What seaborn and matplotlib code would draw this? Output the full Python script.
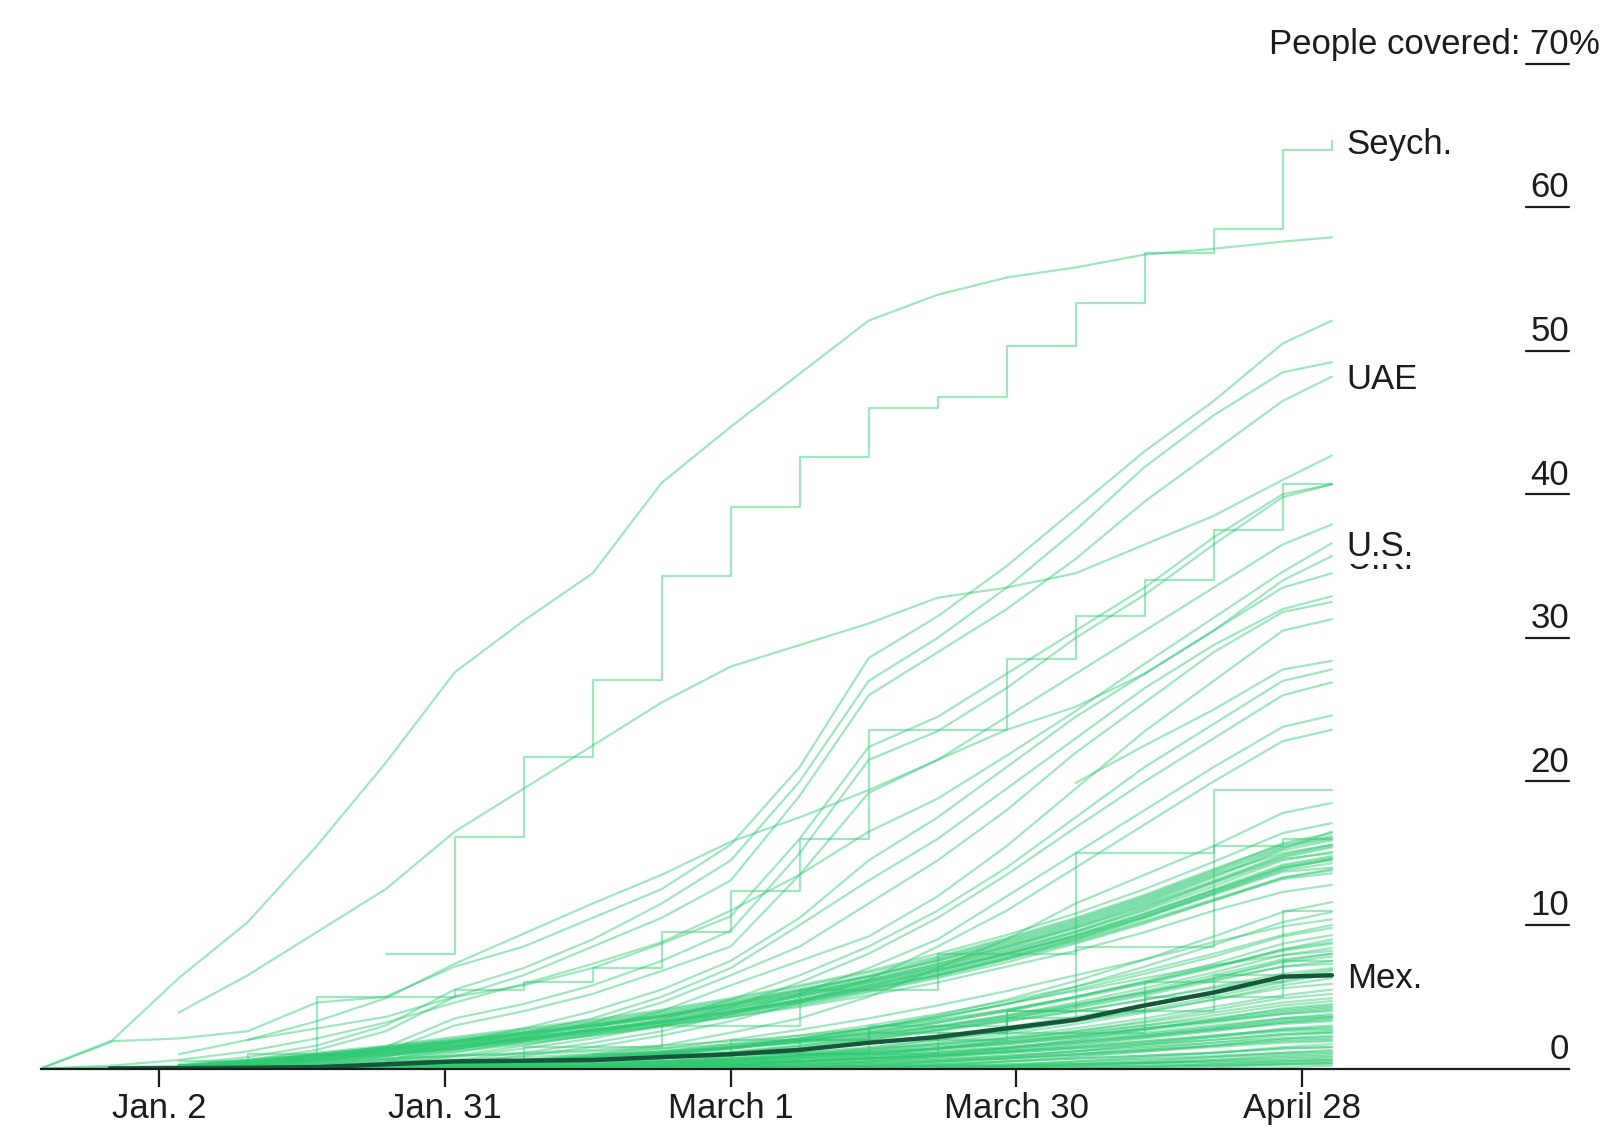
import pandas as pd
import numpy as np
import matplotlib.pyplot as plt
import matplotlib.dates as mdates
import seaborn as sns

nan = np.nan

# weekly readings of share of people covered (%), Dec 21 2020 .. May 1 2021
week_dates = ['2020-12-21', '2020-12-28', '2021-01-04', '2021-01-11', '2021-01-18',
              '2021-01-25', '2021-02-01', '2021-02-08', '2021-02-15', '2021-02-22',
              '2021-03-01', '2021-03-08', '2021-03-15', '2021-03-22', '2021-03-29',
              '2021-04-05', '2021-04-12', '2021-04-19', '2021-04-26', '2021-05-01']

israel = [0, 1.8, 6.3, 10.2, 15.5, 21.3, 27.6, 31.2, 34.5, 40.8, 44.7, 48.4, 52.1, 53.9, 55.1, 55.8, 56.7, 57.1, 57.6, 57.9]
seychelles = [nan, nan, nan, nan, nan, 8.0, 16.1, 21.7, 27.1, 34.3, 39.1, 42.6, 46.0, 46.8, 50.3, 53.3, 56.8, 58.5, 64.0, 64.6]
uae = [nan, nan, 0.2, 0.6, 1.3, 2.6, 5.0, 6.5, 8.5, 10.5, 13.1, 19.0, 26.0, 29.0, 32.0, 35.5, 39.5, 43.0, 46.5, 48.2]
us = [0, 0.2, 0.6, 1.2, 2.1, 3.2, 4.6, 5.9, 7.3, 8.8, 11.0, 13.5, 16.5, 18.8, 21.8, 24.9, 28.2, 31.4, 34.6, 36.6]
uk = [nan, nan, nan, 2.0, 3.3, 4.9, 7.3, 9.4, 11.5, 13.5, 15.8, 17.5, 19.4, 21.5, 23.6, 25.2, 27.5, 30.5, 34.0, 35.7]
mexico = [nan, 0.01, 0.03, 0.06, 0.1, 0.3, 0.5, 0.55, 0.6, 0.8, 1.0, 1.3, 1.8, 2.2, 2.8, 3.4, 4.4, 5.3, 6.4, 6.5]

upper_lines = [
    [nan, nan, 3.9, 6.5, 9.5, 12.5, 16.5, 19.5, 22.5, 25.5, 28.0, 29.5, 31.0, 32.8, 33.5, 34.5, 36.5, 38.5, 41.0, 42.7],
    [0, 1.9, 2.1, 2.6, 4.6, 5.0, 7.1, 8.5, 10.5, 12.5, 15.6, 21.0, 28.6, 31.5, 35.0, 39.0, 43.0, 46.5, 50.5, 52.1],
    [nan, nan, 0.3, 0.8, 1.6, 3.0, 5.5, 7.0, 9.0, 11.5, 14.5, 20.0, 27.0, 30.0, 33.5, 37.5, 41.9, 45.5, 48.5, 49.2],
    [nan, nan, 1.0, 2.0, 2.8, 3.6, 5.0, 5.8, 7.0, 8.7, 10.6, 16.0, 22.4, 24.5, 27.5, 30.5, 33.5, 37.0, 40.0, 40.7],
    [nan, nan, 0.1, 0.3, 0.7, 1.5, 3.5, 4.5, 5.8, 7.5, 9.6, 15.0, 21.5, 23.5, 26.5, 30.0, 33.0, 36.5, 39.8, 40.7],
    [nan, nan, 0, 0.2, 0.5, 1.2, 3.0, 4.0, 5.2, 6.8, 8.5, 13.5, 19.2, 21.5, 24.5, 27.5, 30.5, 33.5, 36.5, 37.9],
    [nan, nan, 0, 0.1, 0.3, 0.8, 1.8, 2.8, 4.0, 5.5, 7.5, 10.5, 14.5, 17.5, 21.0, 24.5, 27.5, 30.5, 33.5, 34.5],
    [nan, nan, nan, 0, 0.2, 0.6, 1.5, 2.5, 3.5, 5.0, 7.0, 10.0, 13.1, 16.0, 19.5, 23.0, 26.5, 29.5, 32.0, 32.9],
    [nan, nan, nan, 0, 0.2, 0.5, 1.3, 2.2, 3.2, 4.6, 6.5, 8.5, 11.5, 14.5, 18.0, 22.0, 25.5, 29.0, 31.8, 32.5],
    [nan, nan, nan, 0, 0.1, 0.4, 1.1, 1.9, 2.8, 4.0, 5.8, 7.5, 9.2, 12.0, 15.5, 19.5, 23.5, 27.0, 30.5, 31.3],
    [nan, nan, nan, nan, nan, nan, nan, nan, nan, nan, nan, nan, nan, nan, nan, 19.9, 22.5, 25.0, 27.8, 28.4],
    [nan, nan, nan, 0, 0.1, 0.3, 0.9, 1.6, 2.4, 3.4, 4.8, 6.5, 8.5, 11.0, 14.0, 17.5, 21.0, 24.0, 27.0, 27.8],
    [nan, nan, nan, 0, 0.1, 0.3, 0.8, 1.4, 2.1, 3.0, 4.3, 6.0, 8.0, 10.5, 13.5, 16.8, 20.0, 23.0, 26.0, 26.9],
    [nan, nan, nan, nan, 0, 0.2, 0.6, 1.1, 1.8, 2.6, 3.8, 5.2, 7.0, 9.0, 12.0, 15.0, 18.0, 21.0, 23.8, 24.6],
    [nan, nan, nan, nan, 0, 0.1, 0.4, 0.9, 1.5, 2.3, 3.3, 4.6, 6.2, 8.5, 11.0, 14.0, 17.0, 20.0, 22.8, 23.6],
    [nan, nan, nan, nan, 0, 0.1, 0.3, 0.6, 1.0, 1.6, 2.5, 3.5, 5.0, 7.0, 9.0, 11.5, 13.5, 15.5, 17.8, 18.5],
]

# lines with irregular reporting, drawn as steps
step_lines = [
    [nan, nan, 0.5, 1.0, 5.0, 5.0, 5.5, 6.0, 7.0, 9.5, 12.4, 16.0, 23.6, 23.6, 28.5, 31.5, 34.0, 37.5, 40.7, 40.7],
    [nan, nan, nan, nan, nan, 0.5, 0.5, 1.5, 1.5, 3.0, 3.0, 5.5, 5.5, 8.0, 8.0, 8.5, 8.5, 19.4, 19.4, 19.4],
    [nan, nan, nan, nan, nan, nan, 0.5, 0.5, 1.0, 1.0, 2.0, 2.0, 3.0, 3.0, 3.5, 15.0, 15.0, 15.5, 16.0, 16.0],
    [nan, nan, nan, nan, nan, nan, nan, nan, 0.3, 0.3, 1.0, 1.0, 2.5, 2.5, 4.0, 4.0, 6.0, 6.0, 11.0, 11.0],
    [nan, nan, nan, nan, nan, nan, nan, nan, nan, nan, 1.0, 1.0, 1.0, 2.5, 2.5, 2.5, 5.0, 5.0, 7.5, 7.5],
    [nan, nan, nan, nan, nan, nan, nan, nan, 0.5, 0.5, 0.5, 2.0, 2.0, 2.0, 4.0, 4.0, 4.0, 6.5, 6.5, 6.5],
]

band_lines = [
    [nan, nan, 0.1, 0.3, 0.7, 1.1, 1.5, 2.0, 2.5, 3.0, 3.6, 4.3, 5.1, 6.0, 7.1, 8.2, 9.5, 11.0, 12.3, 12.8],
    [nan, nan, 0.1, 0.4, 0.8, 1.2, 1.7, 2.2, 2.7, 3.3, 4.0, 4.7, 5.6, 6.5, 7.6, 8.8, 10.2, 11.7, 13.2, 13.6],
    [nan, nan, 0.1, 0.4, 0.8, 1.3, 1.8, 2.3, 2.9, 3.5, 4.2, 5.0, 5.9, 6.9, 8.0, 9.2, 10.6, 12.2, 13.8, 14.3],
    [nan, nan, 0.2, 0.5, 0.9, 1.4, 1.9, 2.5, 3.1, 3.7, 4.5, 5.3, 6.2, 7.3, 8.5, 9.8, 11.3, 13.0, 14.7, 15.4],
    [nan, nan, 0.2, 0.5, 1.0, 1.5, 2.1, 2.7, 3.3, 4.0, 4.8, 5.7, 6.7, 7.8, 9.1, 10.5, 12.1, 13.9, 15.6, 16.2],
    [nan, nan, 0.1, 0.3, 0.6, 1.0, 1.5, 2.1, 2.7, 3.4, 4.2, 5.1, 6.1, 7.2, 8.5, 9.9, 11.5, 13.3, 15.2, 15.9],
    [nan, nan, nan, 0.1, 0.4, 0.9, 1.4, 2.0, 2.6, 3.2, 4.0, 4.8, 5.8, 6.9, 8.1, 9.5, 11.1, 12.9, 14.6, 15.0],
    [nan, nan, 0.2, 0.6, 1.1, 1.6, 2.2, 2.8, 3.4, 4.1, 4.9, 5.8, 6.8, 8.0, 9.3, 10.8, 12.5, 14.4, 16.4, 17.1],
    [nan, nan, 0.1, 0.4, 0.9, 1.3, 1.8, 2.2, 2.7, 3.2, 3.9, 4.6, 5.5, 6.5, 7.7, 9.0, 10.5, 12.2, 13.9, 14.6],
    [nan, nan, 0.1, 0.3, 0.7, 1.2, 1.6, 2.1, 2.7, 3.3, 4.1, 5.0, 6.0, 7.1, 8.4, 9.8, 11.4, 13.1, 14.9, 15.6],
    [nan, nan, nan, 0.2, 0.5, 0.9, 1.4, 1.9, 2.5, 3.1, 3.8, 4.6, 5.5, 6.5, 7.7, 9.0, 10.5, 12.1, 13.7, 14.0],
    [nan, nan, 0.1, 0.5, 1.0, 1.5, 2.0, 2.5, 3.0, 3.6, 4.3, 5.1, 6.0, 7.0, 8.2, 9.5, 11.0, 12.7, 14.5, 15.1],
    [nan, nan, 0.1, 0.3, 0.6, 1.0, 1.4, 1.9, 2.4, 3.0, 3.7, 4.5, 5.4, 6.4, 7.6, 8.9, 10.3, 11.8, 13.3, 13.8],
    [nan, nan, 0.2, 0.6, 1.0, 1.5, 2.0, 2.6, 3.2, 3.9, 4.7, 5.5, 6.4, 7.5, 8.8, 10.2, 11.8, 13.6, 15.4, 16.0],
    [nan, nan, nan, 0.1, 0.3, 0.7, 1.2, 1.7, 2.3, 3.0, 3.8, 4.7, 5.7, 6.8, 8.0, 9.3, 10.8, 12.5, 14.2, 14.8],
    [nan, nan, 0.1, 0.4, 0.8, 1.2, 1.7, 2.3, 2.9, 3.6, 4.4, 5.2, 6.2, 7.3, 8.6, 10.0, 11.6, 13.4, 15.3, 16.5],
    [nan, nan, 0.1, 0.2, 0.5, 0.9, 1.3, 1.8, 2.3, 2.9, 3.6, 4.4, 5.3, 6.3, 7.4, 8.7, 10.1, 11.7, 13.3, 13.9],
    [nan, nan, 0.1, 0.4, 0.8, 1.3, 1.9, 2.4, 3.0, 3.7, 4.5, 5.4, 6.4, 7.5, 8.7, 10.1, 11.7, 13.5, 15.0, 15.6],
    [nan, nan, nan, 0.2, 0.6, 1.1, 1.6, 2.1, 2.6, 3.2, 3.9, 4.7, 5.6, 6.6, 7.8, 9.1, 10.6, 12.3, 14.0, 14.6],
    [nan, nan, 0.1, 0.5, 0.9, 1.4, 1.9, 2.4, 3.0, 3.6, 4.4, 5.2, 6.1, 7.1, 8.3, 9.6, 11.2, 13.0, 14.8, 15.5],
    [nan, nan, 0.1, 0.4, 0.8, 1.3, 1.8, 2.4, 3.0, 3.7, 4.5, 5.4, 6.4, 7.6, 8.9, 10.3, 11.9, 13.7, 15.5, 16.1],
    [nan, nan, 0.1, 0.3, 0.7, 1.1, 1.6, 2.1, 2.7, 3.3, 4.0, 4.8, 5.8, 6.8, 8.0, 9.3, 10.8, 12.4, 14.1, 14.7],
    [nan, nan, 0.2, 0.5, 0.9, 1.4, 1.9, 2.5, 3.1, 3.8, 4.6, 5.5, 6.5, 7.7, 9.0, 10.4, 12.0, 13.8, 15.7, 16.4],
    [nan, nan, 0.1, 0.3, 0.6, 1.0, 1.5, 2.0, 2.6, 3.2, 3.9, 4.8, 5.7, 6.7, 7.9, 9.2, 10.7, 12.4, 14.0, 14.5],
]

middle_lines = [
    [nan, nan, nan, 0, 0.1, 0.2, 0.4, 0.6, 0.9, 1.2, 1.6, 2.1, 2.8, 3.7, 4.8, 6.1, 7.6, 9.2, 10.9, 11.6],
    [nan, nan, nan, nan, 0, 0.1, 0.3, 0.5, 0.8, 1.1, 1.5, 2.0, 2.7, 3.5, 4.5, 5.7, 7.1, 8.6, 10.2, 10.9],
    [nan, nan, nan, nan, nan, 0, 0.2, 0.5, 0.9, 1.4, 2.0, 2.7, 3.5, 4.4, 5.4, 6.5, 7.6, 8.8, 9.9, 10.4],
    [nan, nan, nan, nan, nan, 0, 0.1, 0.3, 0.6, 1.0, 1.5, 2.1, 2.8, 3.6, 4.5, 5.5, 6.6, 7.8, 9.2, 9.8],
    [nan, nan, nan, nan, 0, 0.1, 0.2, 0.4, 0.7, 1.0, 1.4, 1.9, 2.5, 3.2, 4.0, 5.0, 6.1, 7.3, 8.7, 9.3],
    [nan, nan, nan, nan, nan, nan, 0, 0.2, 0.5, 0.9, 1.4, 2.0, 2.6, 3.3, 4.1, 5.0, 6.0, 7.1, 8.3, 8.8],
    [nan, nan, nan, nan, nan, 0, 0.1, 0.2, 0.4, 0.7, 1.1, 1.6, 2.2, 2.9, 3.7, 4.6, 5.6, 6.7, 7.9, 8.4],
    [nan, nan, nan, nan, nan, nan, nan, 0, 0.2, 0.5, 0.9, 1.4, 2.0, 2.7, 3.5, 4.4, 5.4, 6.5, 7.6, 8.0],
    [nan, nan, nan, nan, nan, nan, 0.1, 0.3, 0.6, 1.0, 1.5, 2.1, 2.8, 3.6, 4.5, 5.4, 6.3, 7.2, 7.9, 8.2],
    [nan, nan, nan, nan, nan, 0, 0.2, 0.4, 0.7, 1.0, 1.4, 1.9, 2.5, 3.2, 4.0, 4.9, 5.9, 7.0, 8.3, 9.0],
    [nan, nan, nan, nan, 0, 0.1, 0.3, 0.5, 0.8, 1.2, 1.7, 2.3, 3.0, 3.8, 4.7, 5.7, 6.8, 8.0, 9.3, 10.0],
    [0, 0.05, 0.1, 0.2, 0.3, 0.4, 0.6, 0.8, 1.0, 1.2, 1.5, 1.8, 2.2, 2.7, 3.3, 4.0, 4.8, 5.6, 6.4, 6.9],
    [0, 0.1, 0.2, 0.3, 0.5, 0.7, 0.9, 1.0, 1.2, 1.4, 1.7, 2.0, 2.4, 2.9, 3.5, 4.3, 5.2, 6.3, 7.5, 8.0],
    [nan, 0, 0.1, 0.2, 0.4, 0.6, 0.9, 1.1, 1.3, 1.6, 1.9, 2.3, 2.8, 3.4, 4.1, 5.0, 6.0, 7.1, 8.2, 8.7],
    [nan, nan, nan, nan, nan, 0, 0.2, 0.4, 0.6, 0.9, 1.2, 1.6, 2.1, 2.7, 3.4, 4.2, 5.1, 6.1, 7.1, 7.5],
    [nan, nan, nan, nan, 0, 0.1, 0.3, 0.5, 0.8, 1.1, 1.5, 1.9, 2.4, 3.0, 3.7, 4.5, 5.3, 6.2, 7.1, 7.3],
    [nan, nan, nan, nan, nan, nan, 0.1, 0.3, 0.5, 0.8, 1.1, 1.5, 2.0, 2.6, 3.3, 4.0, 4.8, 5.7, 6.6, 7.0],
    [nan, nan, nan, 0, 0.1, 0.2, 0.4, 0.6, 0.8, 1.1, 1.4, 1.8, 2.3, 2.9, 3.6, 4.4, 5.3, 6.3, 7.4, 7.8],
]

lower_lines = [
    [nan, nan, nan, nan, nan, nan, 0, 0.1, 0.3, 0.5, 0.8, 1.1, 1.5, 2.0, 2.6, 3.3, 4.1, 5.0, 6.0, 6.6],
    [nan, nan, nan, nan, nan, nan, nan, 0, 0.1, 0.3, 0.6, 0.9, 1.3, 1.8, 2.4, 3.1, 3.9, 4.8, 5.8, 6.3],
    [nan, nan, nan, nan, 0, 0.1, 0.2, 0.4, 0.6, 0.8, 1.1, 1.4, 1.8, 2.3, 2.9, 3.6, 4.4, 5.2, 6.1, 6.8],
    [nan, nan, nan, nan, nan, nan, nan, nan, 0, 0.2, 0.5, 0.9, 1.4, 2.0, 2.6, 3.3, 4.0, 4.8, 5.6, 5.9],
    [nan, nan, nan, nan, nan, 0, 0.1, 0.2, 0.3, 0.5, 0.7, 1.0, 1.3, 1.7, 2.2, 2.8, 3.5, 4.3, 5.1, 5.5],
    [nan, nan, nan, nan, nan, nan, nan, nan, nan, 0, 0.2, 0.5, 0.9, 1.4, 2.0, 2.6, 3.3, 4.1, 4.9, 5.2],
    [nan, nan, nan, nan, nan, nan, 0, 0.1, 0.2, 0.4, 0.6, 0.9, 1.2, 1.6, 2.1, 2.6, 3.2, 3.9, 4.6, 4.9],
    [nan, nan, nan, nan, nan, nan, nan, 0, 0.1, 0.2, 0.4, 0.7, 1.0, 1.4, 1.9, 2.4, 3.0, 3.7, 4.4, 4.7],
    [nan, nan, nan, nan, nan, nan, nan, nan, nan, nan, 0, 0.2, 0.5, 0.9, 1.4, 2.0, 2.7, 3.4, 4.2, 4.5],
    [nan, nan, nan, nan, nan, nan, nan, 0, 0.1, 0.3, 0.5, 0.7, 1.0, 1.3, 1.7, 2.2, 2.8, 3.4, 4.0, 4.3],
    [nan, nan, nan, nan, nan, 0, 0.1, 0.2, 0.3, 0.4, 0.6, 0.8, 1.1, 1.4, 1.8, 2.3, 2.8, 3.3, 3.8, 4.0],
    [nan, nan, nan, nan, nan, nan, nan, nan, 0, 0.1, 0.3, 0.5, 0.8, 1.1, 1.5, 1.9, 2.4, 2.9, 3.5, 3.8],
    [nan, nan, nan, nan, nan, nan, nan, nan, nan, 0, 0.1, 0.3, 0.5, 0.8, 1.2, 1.6, 2.1, 2.6, 3.2, 3.5],
    [nan, nan, nan, nan, nan, nan, nan, 0, 0.1, 0.2, 0.3, 0.5, 0.7, 1.0, 1.3, 1.7, 2.2, 2.7, 3.1, 3.3],
    [nan, nan, nan, nan, nan, nan, nan, nan, nan, nan, nan, 0, 0.2, 0.5, 0.8, 1.2, 1.7, 2.2, 2.8, 3.0],
    [nan, nan, nan, nan, nan, nan, 0, 0.1, 0.1, 0.2, 0.3, 0.5, 0.7, 0.9, 1.2, 1.5, 1.9, 2.3, 2.7, 2.8],
    [nan, nan, nan, nan, nan, nan, nan, nan, nan, 0, 0.1, 0.2, 0.4, 0.6, 0.9, 1.2, 1.6, 2.0, 2.4, 2.6],
    [nan, nan, nan, nan, nan, nan, nan, nan, nan, nan, nan, nan, 0, 0.2, 0.5, 0.8, 1.2, 1.6, 2.1, 2.3],
    [nan, nan, nan, nan, nan, nan, nan, nan, 0, 0.1, 0.2, 0.3, 0.5, 0.7, 0.9, 1.2, 1.5, 1.8, 2.1, 2.2],
    [nan, nan, nan, nan, nan, nan, nan, nan, nan, nan, 0, 0.1, 0.3, 0.5, 0.7, 1.0, 1.3, 1.6, 1.9, 2.0],
    [nan, nan, nan, nan, nan, nan, nan, nan, nan, nan, nan, nan, nan, 0, 0.2, 0.5, 0.8, 1.1, 1.5, 1.7],
    [nan, nan, nan, nan, nan, nan, nan, nan, nan, 0, 0.1, 0.1, 0.2, 0.3, 0.5, 0.7, 0.9, 1.1, 1.4, 1.5],
    [nan, nan, nan, nan, nan, nan, nan, nan, nan, nan, nan, 0, 0.1, 0.2, 0.3, 0.5, 0.7, 0.9, 1.1, 1.2],
    [nan, nan, nan, nan, nan, nan, nan, nan, nan, nan, nan, nan, nan, nan, 0, 0.2, 0.4, 0.6, 0.9, 1.0],
    [nan, nan, nan, nan, nan, nan, nan, nan, nan, nan, nan, nan, 0, 0.1, 0.2, 0.3, 0.4, 0.5, 0.7, 0.8],
    [nan, nan, nan, nan, nan, nan, nan, nan, nan, nan, nan, nan, nan, nan, nan, 0, 0.1, 0.3, 0.5, 0.6],
    [nan, nan, nan, nan, nan, nan, nan, nan, nan, nan, nan, nan, nan, nan, nan, nan, 0, 0.1, 0.3, 0.4],
    [nan, nan, nan, nan, nan, nan, nan, nan, nan, nan, nan, nan, nan, 0, 0.1, 0.1, 0.2, 0.2, 0.3, 0.3],
    [nan, nan, nan, 0, 0.1, 0.2, 0.3, 0.4, 0.5, 0.7, 0.9, 1.1, 1.4, 1.7, 2.1, 2.5, 3.0, 3.5, 4.1, 4.4],
    [nan, nan, nan, nan, 0, 0.1, 0.2, 0.3, 0.4, 0.5, 0.7, 0.9, 1.1, 1.4, 1.7, 2.1, 2.5, 3.0, 3.5, 3.7],
    [nan, nan, nan, nan, nan, 0, 0.1, 0.2, 0.3, 0.5, 0.7, 0.9, 1.2, 1.5, 1.9, 2.3, 2.8, 3.3, 3.9, 4.2],
    [nan, nan, nan, nan, nan, nan, 0, 0.1, 0.2, 0.3, 0.5, 0.7, 0.9, 1.2, 1.5, 1.9, 2.3, 2.8, 3.3, 3.6],
    [nan, nan, nan, nan, nan, nan, nan, 0, 0.1, 0.2, 0.3, 0.5, 0.7, 0.9, 1.2, 1.5, 1.9, 2.3, 2.7, 2.9],
    [nan, nan, nan, nan, nan, nan, nan, nan, 0, 0.1, 0.2, 0.4, 0.6, 0.8, 1.1, 1.4, 1.8, 2.2, 2.6, 2.7],
    [nan, nan, nan, nan, nan, 0, 0.1, 0.1, 0.2, 0.3, 0.4, 0.5, 0.7, 0.9, 1.1, 1.4, 1.7, 2.0, 2.4, 2.5],
    [nan, nan, nan, nan, nan, nan, nan, nan, nan, 0, 0.1, 0.2, 0.3, 0.5, 0.7, 0.9, 1.2, 1.5, 1.8, 1.9],
    [nan, nan, nan, nan, nan, nan, nan, nan, nan, nan, 0, 0.1, 0.2, 0.3, 0.5, 0.7, 0.9, 1.1, 1.4, 1.5],
    [nan, nan, nan, nan, nan, nan, nan, nan, nan, nan, nan, 0, 0.1, 0.2, 0.3, 0.4, 0.6, 0.8, 1.0, 1.1],
    [nan, nan, nan, nan, nan, nan, nan, nan, nan, nan, nan, nan, 0, 0.1, 0.2, 0.3, 0.4, 0.6, 0.8, 0.9],
    [nan, nan, nan, nan, nan, nan, nan, nan, nan, nan, nan, nan, nan, 0, 0.1, 0.2, 0.3, 0.4, 0.5, 0.6],
    [nan, nan, nan, nan, nan, nan, nan, nan, nan, nan, nan, nan, nan, nan, 0, 0.1, 0.2, 0.3, 0.4, 0.5],
    [nan, nan, nan, nan, nan, nan, nan, nan, nan, nan, 0, 0.1, 0.1, 0.2, 0.2, 0.3, 0.4, 0.5, 0.6, 0.7],
    [nan, nan, nan, nan, nan, nan, nan, nan, 0, 0.1, 0.2, 0.3, 0.4, 0.6, 0.8, 1.0, 1.3, 1.6, 2.0, 2.1],
    [nan, nan, nan, nan, nan, nan, nan, 0, 0.1, 0.2, 0.4, 0.6, 0.8, 1.1, 1.4, 1.8, 2.2, 2.7, 3.2, 3.4],
    [nan, nan, nan, nan, nan, nan, 0, 0.1, 0.2, 0.4, 0.6, 0.8, 1.1, 1.4, 1.8, 2.2, 2.7, 3.2, 3.8, 4.1],
    [nan, nan, nan, nan, nan, nan, nan, nan, nan, 0, 0.2, 0.4, 0.7, 1.0, 1.4, 1.8, 2.3, 2.8, 3.4, 3.6],
    [nan, nan, nan, nan, nan, nan, nan, nan, nan, nan, nan, 0, 0.2, 0.4, 0.7, 1.0, 1.4, 1.8, 2.3, 2.5],
    [nan, nan, nan, nan, nan, nan, nan, nan, nan, nan, nan, nan, nan, 0, 0.1, 0.3, 0.5, 0.8, 1.1, 1.3],
    [nan, nan, nan, nan, nan, nan, nan, nan, nan, nan, nan, nan, nan, nan, nan, 0, 0.1, 0.2, 0.3, 0.4],
    [nan, nan, nan, nan, nan, nan, nan, nan, nan, nan, nan, nan, nan, nan, nan, nan, nan, 0, 0.1, 0.2],
]

x_tick_dates = ['2021-01-02', '2021-01-31', '2021-03-01', '2021-03-30', '2021-04-28']
x_tick_labels = ['Jan. 2', 'Jan. 31', 'March 1', 'March 30', 'April 28']
y_ticks = [0, 10, 20, 30, 40, 50, 60]

dates = pd.to_datetime(week_dates)


def to_long(series_list, prefix):
    rows = []
    for i, vals in enumerate(series_list):
        for d, v in zip(dates, vals):
            if not np.isnan(v):
                rows.append((d, v, f'{prefix}{i}'))
    return pd.DataFrame(rows, columns=['date', 'share', 'country'])


smooth = pd.concat([
    to_long(lower_lines, 'l'),
    to_long(middle_lines, 'm'),
    to_long(band_lines, 'b'),
    to_long(upper_lines, 'u'),
    to_long([israel, uae, us, uk], 'n'),
])
stepped = pd.concat([to_long(step_lines, 's'), to_long([seychelles], 'sey')])
mex = to_long([mexico], 'mex')

sns.set_theme(style='white')
plt.rcParams['font.family'] = ['Liberation Sans', 'DejaVu Sans']

green = '#2ec971'
dark = '#17563a'
ink = '#1c1c1c'

fig = plt.figure(figsize=(16.08, 11.32), dpi=100)
ax = fig.add_axes([0.0255, 0.05601, 0.9502, 0.88781])

sns.lineplot(data=smooth, x='date', y='share', units='country', estimator=None,
             color=green, alpha=0.45, lw=1.6, legend=False, ax=ax)
sns.lineplot(data=stepped, x='date', y='share', units='country', estimator=None,
             color=green, alpha=0.45, lw=1.6, legend=False, ax=ax, drawstyle='steps-post')
sns.lineplot(data=mex, x='date', y='share', estimator=None, color=dark, lw=3.2,
             legend=False, ax=ax, zorder=5)

t0 = pd.Timestamp('2021-01-02')
ax.set_xlim(mdates.date2num(t0 - pd.Timedelta(days=11.97)),
            mdates.date2num(t0 + pd.Timedelta(days=143.05)))
ax.set_ylim(0, 70)
ax.set_xlabel('')
ax.set_ylabel('')

for side in ['top', 'right', 'left']:
    ax.spines[side].set_visible(False)
ax.spines['bottom'].set_color(ink)
ax.spines['bottom'].set_linewidth(1.6)
ax.spines['bottom'].set_zorder(6)

ax.set_xticks(mdates.date2num(pd.to_datetime(x_tick_dates)))
ax.set_xticklabels(x_tick_labels)
ax.tick_params(axis='x', bottom=True, length=13, width=1.6, color=ink, pad=4,
               labelsize=25, labelcolor=ink)
ax.set_yticks([])

# value labels on the right, underlined
yx = ax.get_yaxis_transform()
for v in y_ticks:
    ax.annotate(str(v), xy=(1.0, v), xycoords=yx, xytext=(0, 7), textcoords='offset points',
                ha='right', va='baseline', fontsize=25, color=ink, annotation_clip=False)
    if v > 0:
        ax.plot([0.9719, 1.0], [v, v], transform=yx, color=ink, lw=1.6, clip_on=False)

ax.annotate('People covered: 70', xy=(1.0, 70), xycoords=yx, xytext=(0, 7),
            textcoords='offset points', ha='right', va='baseline', fontsize=25,
            color=ink, annotation_clip=False)
ax.annotate('%', xy=(1.0, 70), xycoords=yx, xytext=(0, 7), textcoords='offset points',
            ha='left', va='baseline', fontsize=25, color=ink, annotation_clip=False)
ax.plot([0.9719, 1.0], [70, 70], transform=yx, color=ink, lw=1.6, clip_on=False)

# country labels at the end of lines (U.K. sits mostly hidden behind U.S., as in the source)
label_x = mdates.date2num(pd.Timestamp('2021-05-02 12:00'))
ax.annotate('U.K.', xy=(label_x, uk[-1]), xytext=(0, -9), textcoords='offset points',
            ha='left', va='baseline', fontsize=25, color=ink, zorder=7)
for name, series in [('Seych.', seychelles), ('UAE', uae), ('U.S.', us), ('Mex.', mexico)]:
    ax.annotate(name, xy=(label_x, series[-1]), xytext=(0, -9), textcoords='offset points',
                ha='left', va='baseline', fontsize=25, color=ink, zorder=8,
                bbox=dict(boxstyle='square,pad=0.05', fc='white', ec='none'))

fig.savefig('out.png', dpi=100, facecolor='white')
